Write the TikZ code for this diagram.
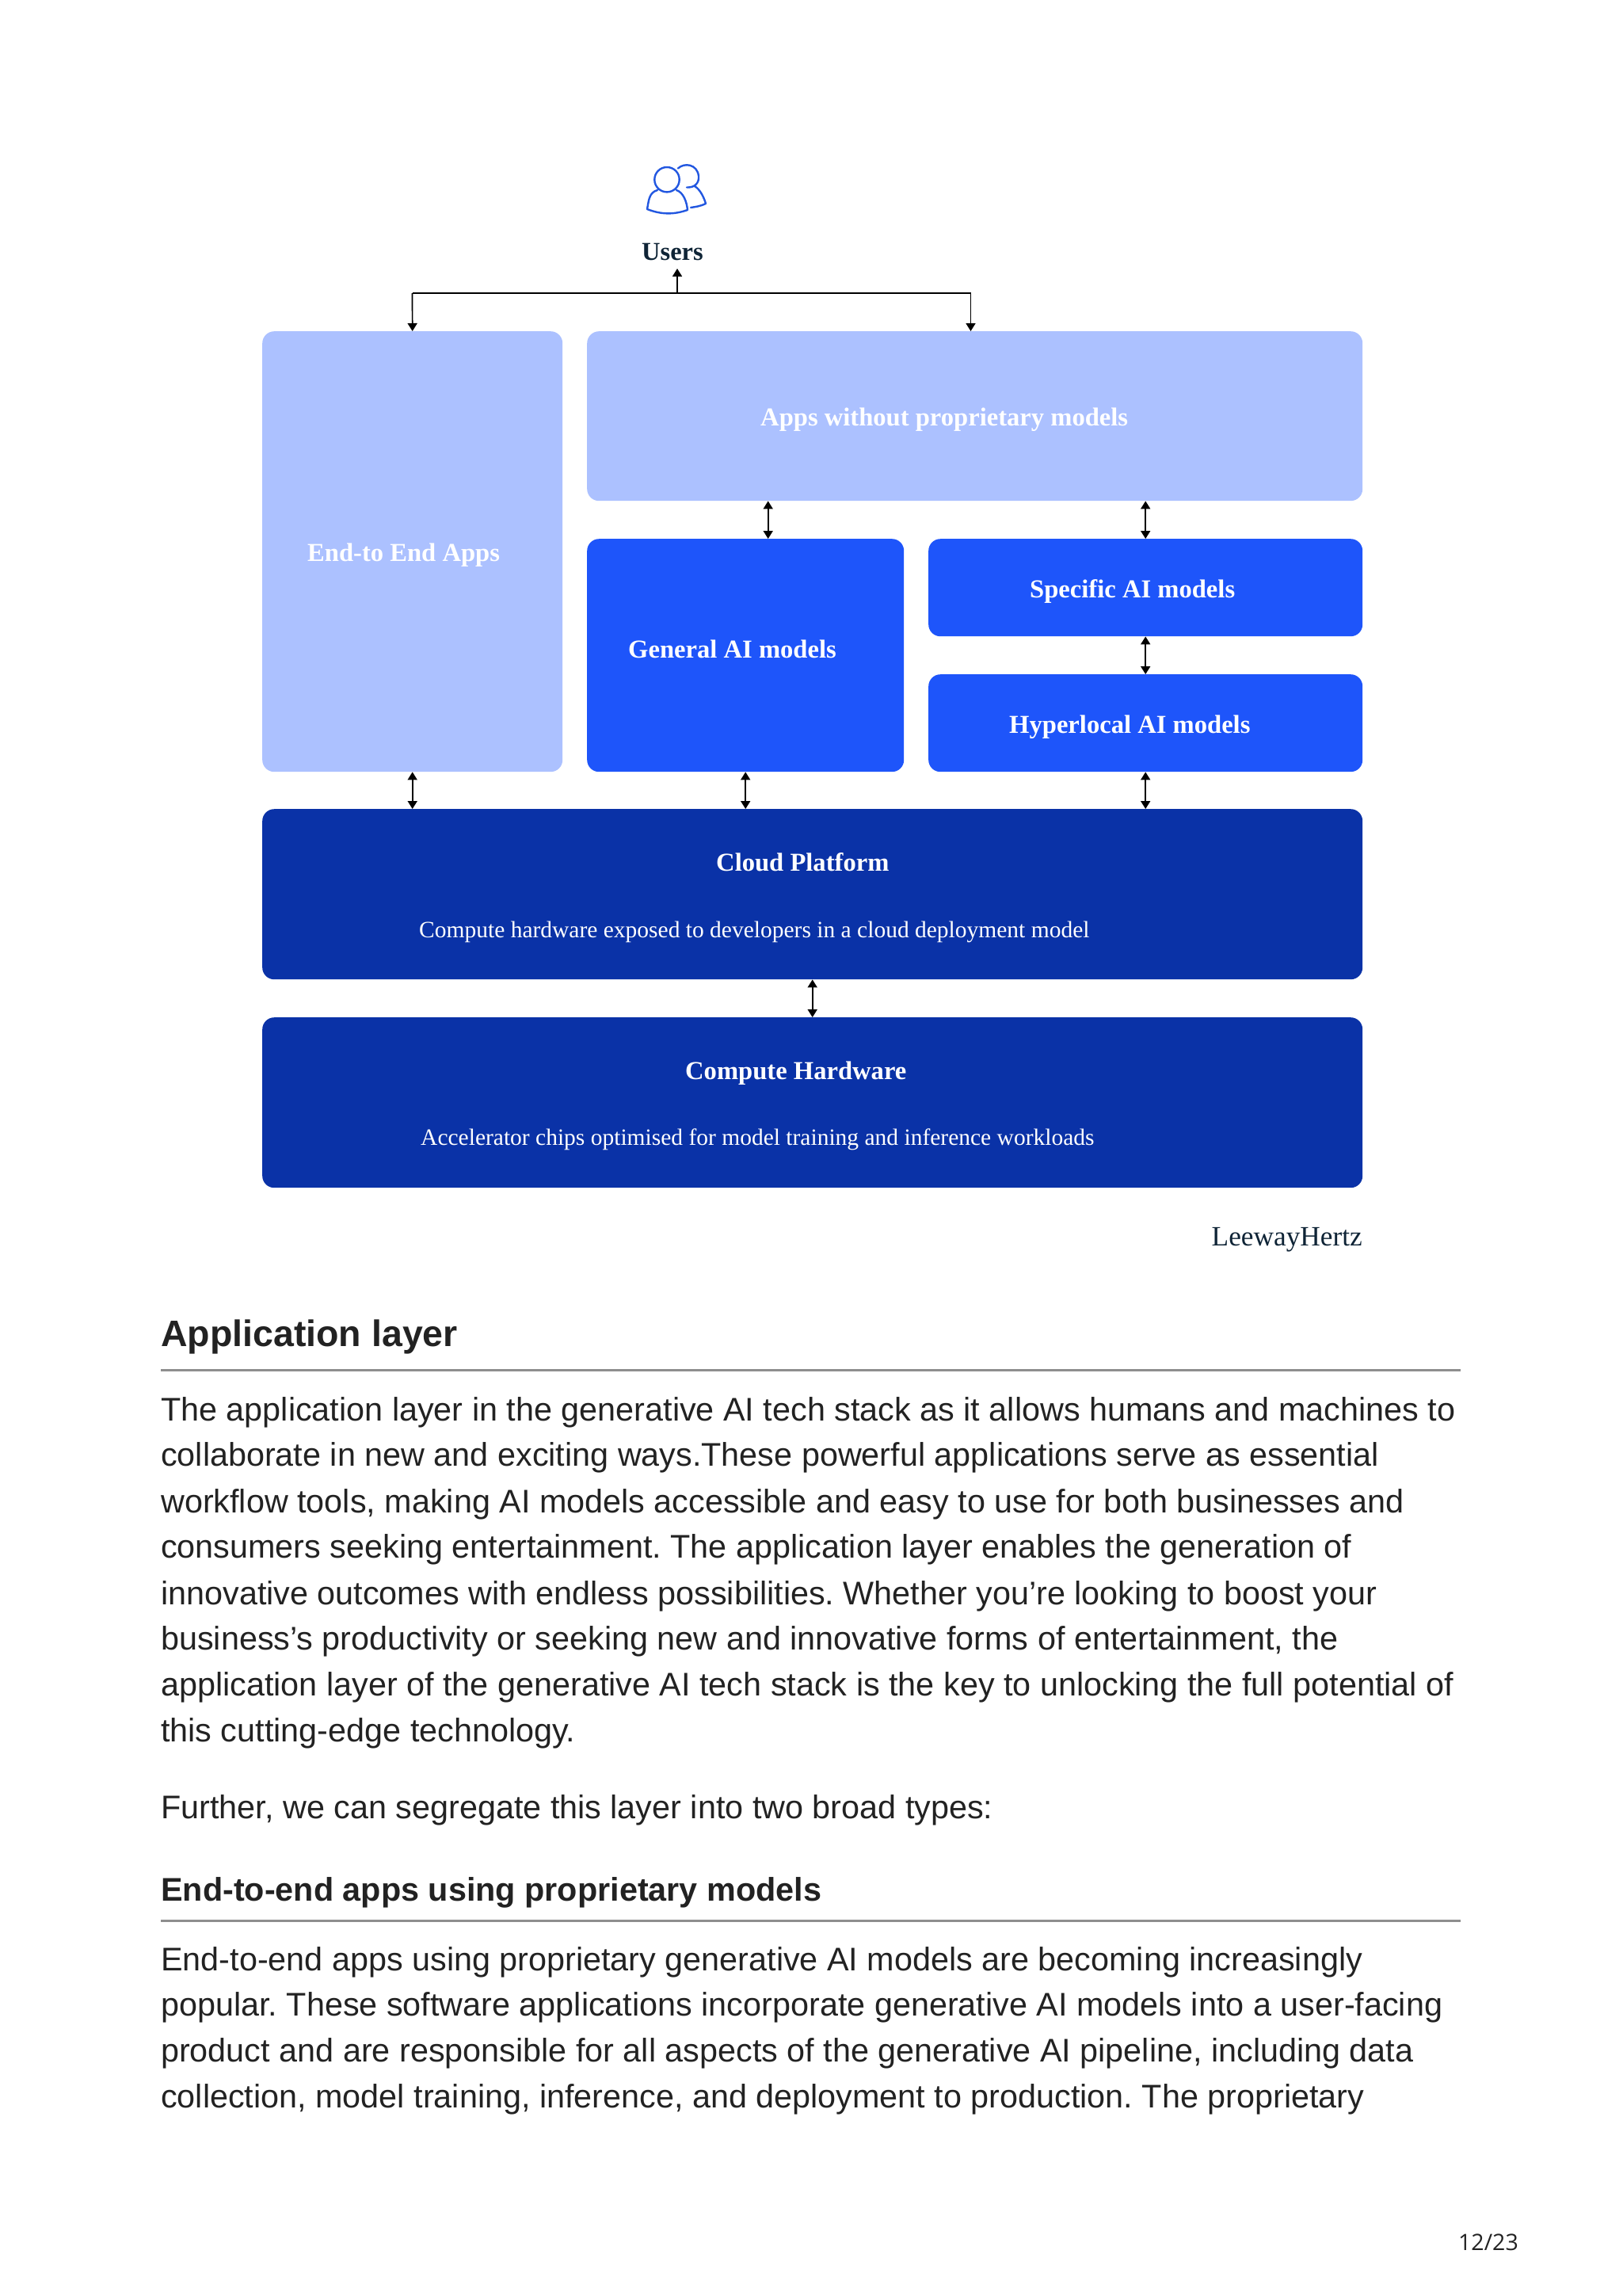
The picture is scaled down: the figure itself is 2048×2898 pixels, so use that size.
\documentclass[tikz,border=0pt]{standalone}
\usepackage{fontspec}
\setmainfont{Liberation Serif}
\newfontfamily\bodyfont{Liberation Sans}
\newfontfamily\pagefont{Open Sans}
\usetikzlibrary{arrows.meta}
\frenchspacing
\definecolor{lightblue}{HTML}{ACC1FF}
\definecolor{midblue}{HTML}{1E55FA}
\definecolor{darkblue}{HTML}{0A32A7}
\definecolor{inkblue}{HTML}{0F2436}
\definecolor{iconblue}{HTML}{2257E0}
\definecolor{bodygray}{HTML}{222222}
\definecolor{rulegray}{HTML}{8E8E8E}
\tikzstyle{box} = [rectangle, rounded corners=15pt, anchor=north west, inner sep=0pt, draw=none]
\tikzstyle{titletext} = [anchor=base west, inner sep=0pt, text=white, font=\fontsize{32.6}{38}\selectfont\bfseries]
\tikzstyle{desctext} = [anchor=base west, inner sep=0pt, text=white, font=\fontsize{29.5}{34}\selectfont]
\tikzstyle{para} = [anchor=base west, inner sep=0pt, text=bodygray, font=\bodyfont\fontsize{41.35}{58}\selectfont]
\tikzstyle{heading} = [anchor=base west, inner sep=0pt, text=bodygray, font=\bodyfont\fontsize{46.5}{58}\selectfont\bfseries]
\tikzstyle{subheading} = [anchor=base west, inner sep=0pt, text=bodygray, font=\bodyfont\fontsize{41.35}{58}\selectfont\bfseries]
\tikzstyle{arrow} = [line width=1.7pt, {Triangle[length=10pt,width=12pt]}-{Triangle[length=10pt,width=12pt]}]
\tikzstyle{oneway} = [line width=1.7pt, -{Triangle[length=10pt,width=12pt]}]
\tikzstyle{rulerline} = [line width=3pt, rulegray]
\begin{document}
\begin{tikzpicture}[x=1pt,y=-1pt]
    \useasboundingbox (0,0) rectangle (2048,2898);
    % users icon
    \draw[iconblue, line width=2.4pt, line cap=round, line join=round]
        (842,226.7) circle (15.7)
        (830,240) .. controls (819,243) and (819,254) .. (817,264) .. controls (835,271) and (851,271) .. (868,265) .. controls (867,255) and (863,243) .. (854,240)
        (856,212.5) .. controls (864,205) and (880,207) .. (882,222) .. controls (883,232) and (876,237) .. (867,236.5)
        (877,235) .. controls (884,239) and (889,250) .. (891,257) .. controls (885,260) and (879,261) .. (872,262);
    \node (users) [anchor=base west, inner sep=0pt, text=inkblue, font=\fontsize{32.5}{38}\selectfont\bfseries] at (810,328) {Users};

    % boxes
    \node (endapps) [box, fill=lightblue, minimum width=379pt, minimum height=556pt] at (331,418) {};
    \node (apps) [box, fill=lightblue, minimum width=979pt, minimum height=214pt] at (741,418) {};
    \node (general) [box, fill=midblue, minimum width=400pt, minimum height=294pt] at (741,680) {};
    \node (specific) [box, fill=midblue, minimum width=548pt, minimum height=123pt] at (1172,680) {};
    \node (hyperlocal) [box, fill=midblue, minimum width=548pt, minimum height=123pt] at (1172,851) {};
    \node (cloud) [box, fill=darkblue, minimum width=1389pt, minimum height=215pt] at (331,1021) {};
    \node (hardware) [box, fill=darkblue, minimum width=1389pt, minimum height=215pt] at (331,1284) {};

    % box texts
    \node (endappstext) [titletext] at (388,708) {End-to End Apps};
    \node (appstext) [titletext] at (960,537) {Apps without proprietary models};
    \node (generaltext) [titletext] at (793,830) {General AI models};
    \node (specifictext) [titletext] at (1300,754) {Specific AI models};
    \node (hyperlocaltext) [titletext] at (1274,925) {Hyperlocal AI models};
    \node (cloudtext) [titletext] at (904,1099) {Cloud Platform};
    \node (clouddesc) [desctext] at (529,1183) {Compute hardware exposed to developers in a cloud deployment model};
    \node (hardwaretext) [titletext] at (865,1362) {Compute Hardware};
    \node (hardwaredesc) [desctext] at (531,1445) {Accelerator chips optimised for model training and inference workloads};
    \node (brand) [anchor=base east, inner sep=0pt, text=inkblue, font=\fontsize{35.3}{42}\selectfont] at (1720,1572) {LeewayHertz};

    % connectors
    \coordinate (busleft) at (520.5,370);
    \coordinate (busmid) at (855,370);
    \coordinate (busright) at (1225.5,370);
    \coordinate (userstip) at (855,339);
    \draw [line width=2pt] (busleft) -- (busright);
    \draw [oneway] (busmid) -- (userstip);
    \draw [oneway] (busleft) -- (endapps.north);
    \draw [oneway] (busright) -- (busright |- apps.north);
    \draw [arrow] ([xshift=28.5pt]general.north) -- ([xshift=28.5pt]general.north |- apps.south);
    \draw [arrow] (specific.north) -- (specific.north |- apps.south);
    \draw [arrow] (specific.south) -- (hyperlocal.north);
    \draw [arrow] (endapps.south) -- (endapps.south |- cloud.north);
    \draw [arrow] (general.south) -- (general.south |- cloud.north);
    \draw [arrow] (hyperlocal.south) -- (hyperlocal.south |- cloud.north);
    \draw [arrow] (cloud.south) -- (hardware.north);

    % page text
    \node (apphead) [heading] at (203,1699) {Application layer};
    \coordinate (rulea) at (203,1729);
    \coordinate (ruleaend) at (1844,1729);
    \draw [rulerline] (rulea) -- (ruleaend);
    \node (paraa1) [para] at (203,1793) {The application layer in the generative AI tech stack as it allows humans and machines to};
    \node (paraa2) [para] at (203,1850.5) {collaborate in new and exciting ways.These powerful applications serve as essential};
    \node (paraa3) [para] at (203,1909) {workflow tools, making AI models accessible and easy to use for both businesses and};
    \node (paraa4) [para] at (203,1966) {consumers seeking entertainment. The application layer enables the generation of};
    \node (paraa5) [para] at (203,2025.5) {innovative outcomes with endless possibilities. Whether you’re looking to boost your};
    \node (paraa6) [para] at (203,2082.5) {business’s productivity or seeking new and innovative forms of entertainment, the};
    \node (paraa7) [para] at (203,2140) {application layer of the generative AI tech stack is the key to unlocking the full potential of};
    \node (paraa8) [para] at (203,2198.5) {this cutting-edge technology.};
    \node (parab) [para] at (203,2295) {Further, we can segregate this layer into two broad types:};
    \node (endhead) [subheading] at (203,2399) {End-to-end apps using proprietary models};
    \coordinate (ruleb) at (203,2424);
    \coordinate (rulebend) at (1844,2424);
    \draw [rulerline] (ruleb) -- (rulebend);
    \node (parac1) [para] at (203,2487) {End-to-end apps using proprietary generative AI models are becoming increasingly};
    \node (parac2) [para] at (203,2544) {popular. These software applications incorporate generative AI models into a user-facing};
    \node (parac3) [para] at (203,2602) {product and are responsible for all aspects of the generative AI pipeline, including data};
    \node (parac4) [para] at (203,2660) {collection, model training, inference, and deployment to production. The proprietary};
    \node (pagenum) [anchor=base east, inner sep=0pt, text=bodygray, font=\pagefont\fontsize{28.5}{32}\selectfont] at (1917,2840) {12/23};
\end{tikzpicture}
\end{document}
